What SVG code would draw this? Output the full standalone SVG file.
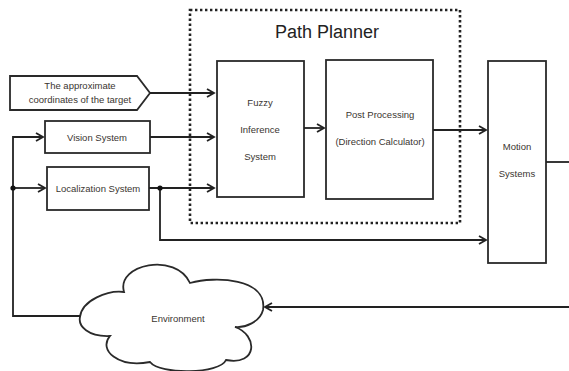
<svg xmlns="http://www.w3.org/2000/svg" width="569" height="371" viewBox="0 0 569 371">
<style>
.box{fill:#fff;stroke:#2a2a2a;stroke-width:1.8}
.t{font-family:"Liberation Sans",Arial,sans-serif;font-size:9.5px;fill:#3a3530;text-anchor:middle}
.ln{fill:none;stroke:#222;stroke-width:1.8}
.dot{fill:#111}
</style>
<defs>
<marker id="ah" markerWidth="10" markerHeight="10" refX="8" refY="5" orient="auto" markerUnits="userSpaceOnUse">
<path d="M1,1 L8,5 L1,9" fill="none" stroke="#222" stroke-width="1.8"/>
</marker>
</defs>
<rect width="569" height="371" fill="#fff"/>
<g id="path-planner">
<rect x="190" y="10" width="270" height="213" fill="none" stroke="#222" stroke-width="2.6" stroke-dasharray="2.4,2.6"/>
<text x="327" y="38" style="font-family:'Liberation Sans',Arial,sans-serif;font-size:18px;fill:#222;text-anchor:middle">Path Planner</text>
</g>
<g id="target">
<path class="box" d="M10,76 L137,76 L150,93 L137,110 L10,110 Z"/>
<text class="t" x="80" y="89">The approximate</text>
<text class="t" x="80" y="103">coordinates of the target</text>
</g>
<g id="vision">
<rect class="box" x="45" y="121" width="105" height="32"/>
<text class="t" x="97" y="141">Vision System</text>
</g>
<g id="localization">
<rect class="box" x="47" y="167" width="102" height="43"/>
<text class="t" x="98" y="192">Localization System</text>
</g>
<g id="fuzzy">
<rect class="box" x="217" y="61" width="87" height="136"/>
<text class="t" x="260" y="106">Fuzzy</text>
<text class="t" x="260" y="133">Inference</text>
<text class="t" x="260" y="160">System</text>
</g>
<g id="post">
<rect class="box" x="326" y="60" width="107" height="139"/>
<text class="t" x="380" y="118">Post Processing</text>
<text class="t" x="380" y="145">(Direction Calculator)</text>
</g>
<g id="motion">
<rect class="box" x="488" y="61" width="58" height="202"/>
<text class="t" x="517" y="150">Motion</text>
<text class="t" x="517" y="177">Systems</text>
</g>
<g id="environment">
<path class="box" d="M80,317 C82,300 108,290 124,292 C116,264 176,252 190,283 C215,276 268,278 263,310 C260,322 245,328 235,327 C258,335 258,366 226,360 C220,374 160,375 150,362 C118,368 98,350 110,336 C88,337 78,326 80,317 Z"/>
<text class="t" x="178" y="322">Environment</text>
</g>
<g id="connectors">
<path class="ln" d="M150,93 H214" marker-end="url(#ah)"/>
<path class="ln" d="M150,137 H214" marker-end="url(#ah)"/>
<path class="ln" d="M149,188 H214" marker-end="url(#ah)"/>
<path class="ln" d="M304,128 H324" marker-end="url(#ah)"/>
<path class="ln" d="M433,130 H486" marker-end="url(#ah)"/>
<path class="ln" d="M160,188 V240 H486" marker-end="url(#ah)"/>
<path class="ln" d="M546,162 H569"/>
<path class="ln" d="M569,307 H265" marker-end="url(#ah)"/>
<path class="ln" d="M80,316 H13 V137 H43" marker-end="url(#ah)"/>
<path class="ln" d="M13,188 H45" marker-end="url(#ah)"/>
<circle class="dot" cx="13" cy="188" r="2.6"/>
<circle class="dot" cx="160" cy="188" r="2.6"/>
</g>
</svg>
